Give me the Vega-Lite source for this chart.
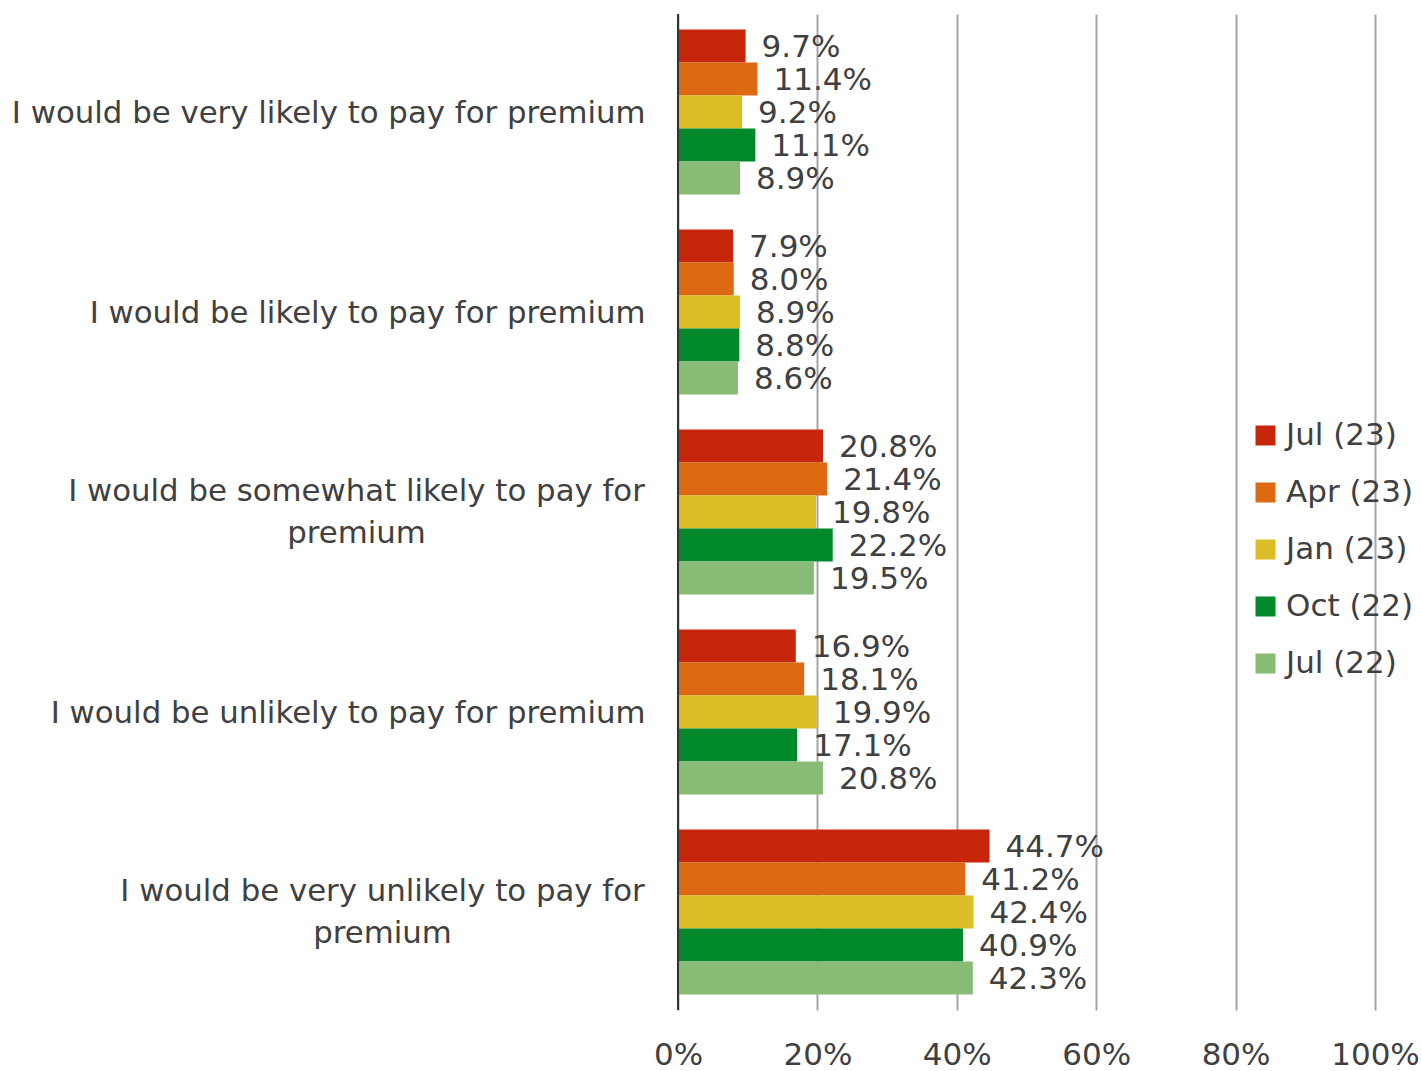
{
  "$schema": "https://vega.github.io/schema/vega-lite/v6.json",
  "autosize": {"type": "none"},
  "width": 697,
  "height": 996,
  "padding": {"left": 678, "top": 14, "right": 46, "bottom": 61},
  "background": "white",
  "config": {"view": {"stroke": null}, "font": "DejaVu Sans"},
  "data": {"values": [
    {"q": "I would be very likely to pay for premium", "wave": "Jul (23)", "v": 0.097},
    {"q": "I would be very likely to pay for premium", "wave": "Apr (23)", "v": 0.114},
    {"q": "I would be very likely to pay for premium", "wave": "Jan (23)", "v": 0.092},
    {"q": "I would be very likely to pay for premium", "wave": "Oct (22)", "v": 0.111},
    {"q": "I would be very likely to pay for premium", "wave": "Jul (22)", "v": 0.089},
    {"q": "I would be likely to pay for premium", "wave": "Jul (23)", "v": 0.079},
    {"q": "I would be likely to pay for premium", "wave": "Apr (23)", "v": 0.080},
    {"q": "I would be likely to pay for premium", "wave": "Jan (23)", "v": 0.089},
    {"q": "I would be likely to pay for premium", "wave": "Oct (22)", "v": 0.088},
    {"q": "I would be likely to pay for premium", "wave": "Jul (22)", "v": 0.086},
    {"q": "I would be somewhat likely to pay for premium", "wave": "Jul (23)", "v": 0.208},
    {"q": "I would be somewhat likely to pay for premium", "wave": "Apr (23)", "v": 0.214},
    {"q": "I would be somewhat likely to pay for premium", "wave": "Jan (23)", "v": 0.198},
    {"q": "I would be somewhat likely to pay for premium", "wave": "Oct (22)", "v": 0.222},
    {"q": "I would be somewhat likely to pay for premium", "wave": "Jul (22)", "v": 0.195},
    {"q": "I would be unlikely to pay for premium", "wave": "Jul (23)", "v": 0.169},
    {"q": "I would be unlikely to pay for premium", "wave": "Apr (23)", "v": 0.181},
    {"q": "I would be unlikely to pay for premium", "wave": "Jan (23)", "v": 0.199},
    {"q": "I would be unlikely to pay for premium", "wave": "Oct (22)", "v": 0.171},
    {"q": "I would be unlikely to pay for premium", "wave": "Jul (22)", "v": 0.208},
    {"q": "I would be very unlikely to pay for premium", "wave": "Jul (23)", "v": 0.447},
    {"q": "I would be very unlikely to pay for premium", "wave": "Apr (23)", "v": 0.412},
    {"q": "I would be very unlikely to pay for premium", "wave": "Jan (23)", "v": 0.424},
    {"q": "I would be very unlikely to pay for premium", "wave": "Oct (22)", "v": 0.409},
    {"q": "I would be very unlikely to pay for premium", "wave": "Jul (22)", "v": 0.423}
  ]},
  "encoding": {
    "y": {
      "field": "q", "type": "nominal",
      "sort": ["I would be very likely to pay for premium", "I would be likely to pay for premium", "I would be somewhat likely to pay for premium", "I would be unlikely to pay for premium", "I would be very unlikely to pay for premium"],
      "scale": {"paddingInner": 0.175, "paddingOuter": 0.0775},
      "axis": {
        "title": null, "domain": false, "ticks": false,
        "labelFontSize": 30.8, "labelColor": "#404040", "labelLimit": 700,
        "labelLineHeight": 42,
        "labelExpr": "datum.value == 'I would be somewhat likely to pay for premium' ? ['I would be somewhat likely to pay for', 'premium'] : datum.value == 'I would be very unlikely to pay for premium' ? ['I would be very unlikely to pay for', 'premium'] : datum.value",
        "labelAlign": {"condition": {"test": "indexof(datum.value, 'somewhat') >= 0 || indexof(datum.value, 'very unlikely') >= 0", "value": "center"}, "value": "right"},
        "labelPadding": {"condition": [
          {"test": "indexof(datum.value, 'somewhat') >= 0", "value": 322},
          {"test": "indexof(datum.value, 'very unlikely') >= 0", "value": 296}
        ], "value": 33},
        "labelOffset": {"condition": {"test": "indexof(datum.value, 'somewhat') >= 0 || indexof(datum.value, 'very unlikely') >= 0", "value": -20}, "value": 2}
      }
    },
    "yOffset": {
      "field": "wave", "type": "nominal",
      "sort": ["Jul (23)", "Apr (23)", "Jan (23)", "Oct (22)", "Jul (22)"],
      "scale": {"paddingInner": 0, "paddingOuter": 0}
    },
    "x": {
      "field": "v", "type": "quantitative",
      "scale": {"domain": [0, 1], "nice": false},
      "axis": {
        "title": null, "format": ".0%", "values": [0, 0.2, 0.4, 0.6, 0.8, 1],
        "grid": true, "gridColor": "#A6A6A6", "gridWidth": 2,
        "domain": false, "ticks": false,
        "labelFontSize": 31, "labelColor": "#404040", "labelPadding": 30,
        "labelFlush": false
      }
    }
  },
  "layer": [
    {
      "mark": {"type": "bar", "strokeWidth": 1},
      "encoding": {
        "color": {
          "field": "wave", "type": "nominal",
          "sort": ["Jul (23)", "Apr (23)", "Jan (23)", "Oct (22)", "Jul (22)"],
          "scale": {"domain": ["Jul (23)", "Apr (23)", "Jan (23)", "Oct (22)", "Jul (22)"], "range": ["#C8260A", "#DD6A12", "#DCBD26", "#00882B", "#88BC76"]},
          "legend": {
            "title": null, "orient": "none", "legendX": 572, "legendY": 406,
            "symbolType": "square", "symbolSize": 400, "symbolStrokeWidth": 0,
            "labelFontSize": 31, "labelColor": "#404040", "rowPadding": 25,
            "labelOffset": 5, "symbolOpacity": 1
          }
        }
      }
    },
    {
      "mark": {"type": "text", "align": "left", "baseline": "middle", "dx": 16, "dy": 2, "fontSize": 31, "color": "#404040"},
      "encoding": {
        "text": {"field": "v", "type": "quantitative", "format": ".1%"}
      }
    },
    {
      "mark": {"type": "rule", "color": "#333333", "strokeWidth": 2},
      "data": {"values": [{"z": 0}]},
      "encoding": {"x": {"field": "z", "type": "quantitative"}, "y": null, "yOffset": null}
    }
  ]
}
